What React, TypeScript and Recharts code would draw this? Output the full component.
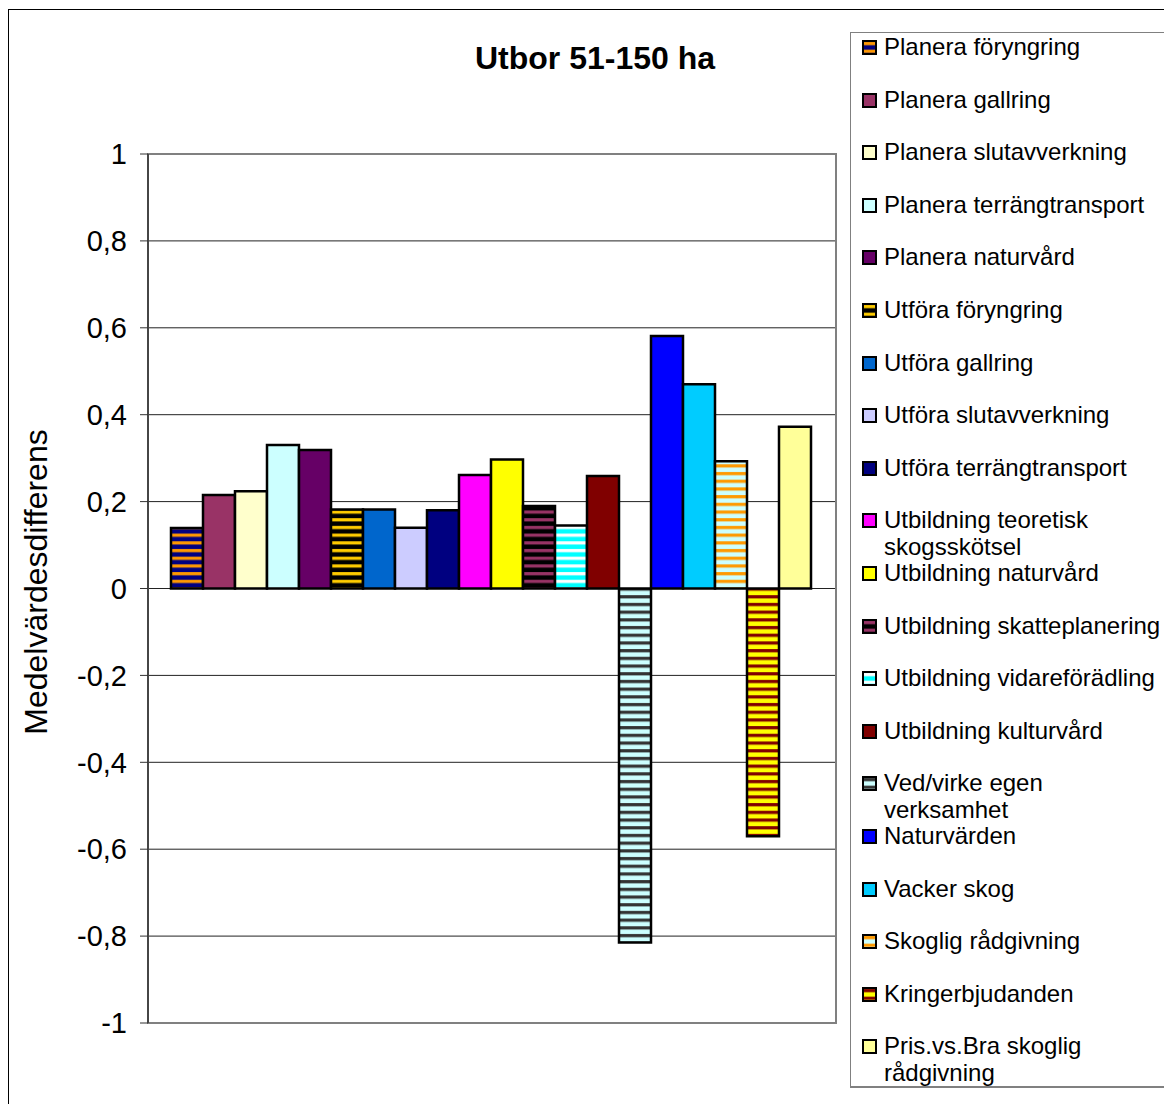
import React from 'react';
import { BarChart, Bar, XAxis, YAxis, CartesianGrid, ReferenceArea } from 'recharts';

// series names, in legend order
const seriesNames = [
  'Planera föryngring',
  'Planera gallring',
  'Planera slutavverkning',
  'Planera terrängtransport',
  'Planera naturvård',
  'Utföra föryngring',
  'Utföra gallring',
  'Utföra slutavverkning',
  'Utföra terrängtransport',
  'Utbildning teoretisk skogsskötsel',
  'Utbildning naturvård',
  'Utbildning skatteplanering',
  'Utbildning vidareförädling',
  'Utbildning kulturvård',
  'Ved/virke egen verksamhet',
  'Naturvärden',
  'Vacker skog',
  'Skoglig rådgivning',
  'Kringerbjudanden',
  'Pris.vs.Bra skoglig rådgivning',
];

// legend labels with the line breaks seen in the picture
const legendLabels = [
  ['Planera föryngring'],
  ['Planera gallring'],
  ['Planera slutavverkning'],
  ['Planera terrängtransport'],
  ['Planera naturvård'],
  ['Utföra föryngring'],
  ['Utföra gallring'],
  ['Utföra slutavverkning'],
  ['Utföra terrängtransport'],
  ['Utbildning teoretisk', 'skogsskötsel'],
  ['Utbildning naturvård'],
  ['Utbildning skatteplanering'],
  ['Utbildning vidareförädling'],
  ['Utbildning kulturvård'],
  ['Ved/virke egen', 'verksamhet'],
  ['Naturvärden'],
  ['Vacker skog'],
  ['Skoglig rådgivning'],
  ['Kringerbjudanden'],
  ['Pris.vs.Bra skoglig', 'rådgivning'],
];

const seriesValues = [
  0.139, 0.215, 0.224, 0.33, 0.319, 0.182, 0.182, 0.14, 0.18, 0.261,
  0.297, 0.19, 0.145, 0.259, -0.815, 0.581, 0.47, 0.293, -0.57, 0.372,
];

// solid colour or striped pattern [background, stripe]
const seriesFills: (string | [string, string])[] = [
  ['#000080', '#FF9900'],
  '#993366',
  '#FFFFCC',
  '#CCFFFF',
  '#660066',
  ['#000000', '#FFCC00'],
  '#0066CC',
  '#CCCCFF',
  '#000080',
  '#FF00FF',
  '#FFFF00',
  ['#000000', '#993366'],
  ['#00FFFF', '#FFFFFF'],
  '#800000',
  ['#CCFFFF', '#333333'],
  '#0000FF',
  '#00CCFF',
  ['#CCFFFF', '#FF9900'],
  ['#FFFF00', '#800000'],
  '#FFFF99',
];

const yTicks = [-1, -0.8, -0.6, -0.4, -0.2, 0, 0.2, 0.4, 0.6, 0.8, 1];

const chartRow: Record<string, number | string> = { name: 'Utbor 51-150 ha' };
seriesValues.forEach((v, i) => {
  chartRow['s' + i] = v;
});
const chartData = [chartRow];

const fillFor = (i: number) => {
  const f = seriesFills[i];
  return typeof f === 'string' ? f : `url(#pat-${i})`;
};

const font = '"Liberation Sans", Arial, sans-serif';

const fmtTick = (v: number) => String(Math.round(v * 10) / 10).replace('.', ',');

function Patterns() {
  return (
    <svg width={0} height={0} style={{ position: 'absolute' }}>
      <defs>
        {seriesFills.map((f, i) =>
          typeof f === 'string' ? null : (
            <pattern key={i} id={`pat-${i}`} patternUnits="userSpaceOnUse" width={8} height={7.7}>
              <rect x={0} y={0} width={8} height={7.7} fill={f[0]} />
              <rect x={0} y={2} width={8} height={3.2} fill={f[1]} />
            </pattern>
          )
        )}
      </defs>
    </svg>
  );
}

export default function App() {
  return (
    <div style={{ position: 'relative', width: 1164, height: 1096, overflow: 'hidden', fontFamily: font }}>
      <Patterns />
      <div
        style={{
          position: 'absolute',
          left: 0,
          top: 1,
          width: 1250,
          height: 1250,
          border: '1px solid #000',
          background: '#fff',
        }}
      />
      <div
        style={{
          position: 'absolute',
          left: 387,
          width: 400,
          top: 32,
          textAlign: 'center',
          fontSize: 32,
          fontWeight: 'bold',
        }}
      >
        Utbor 51-150 ha
      </div>
      <div
        style={{
          position: 'absolute',
          left: 28,
          top: 574,
          transform: 'translate(-50%, -50%) rotate(-90deg)',
          fontSize: 32,
          whiteSpace: 'nowrap',
        }}
      >
        Medelvärdesdifferens
      </div>
      <div style={{ position: 'absolute', left: 0, top: 0 }}>
        <BarChart
          width={840}
          height={1040}
          data={chartData}
          margin={{ top: 146, right: 12, bottom: 25, left: 0 }}
          barCategoryGap={23}
          barGap={0}
        >
          <CartesianGrid vertical={false} stroke="#222" />
          <ReferenceArea y1={-1} y2={1} fill="none" stroke="#808080" strokeWidth={2} />
          <XAxis dataKey="name" hide />
          <YAxis
            width={140}
            domain={[-1, 1]}
            ticks={yTicks}
            interval={0}
            tickFormatter={fmtTick}
            tick={{ fill: '#000', fontSize: 29, fontFamily: font }}
            tickSize={8}
            tickMargin={13}
            stroke="#333"
            axisLine={{ stroke: '#333', strokeWidth: 1.5 }}
            tickLine={{ stroke: '#333' }}
          />
          {seriesNames.map((name, i) => (
            <Bar
              key={name}
              dataKey={'s' + i}
              name={name}
              fill={fillFor(i)}
              stroke="#000"
              strokeWidth={2.5}
              isAnimationActive={false}
            />
          ))}
        </BarChart>
      </div>
      <div
        style={{
          position: 'absolute',
          left: 842,
          top: 24,
          width: 320,
          height: 1056,
          borderTop: '1px solid #808080',
          borderLeft: '1px solid #808080',
          borderRight: '2px solid #808080',
          borderBottom: '2px solid #808080',
          background: '#fff',
          boxSizing: 'border-box',
          paddingTop: 0,
        }}
      >
        {legendLabels.map((lines, i) => (
          <div key={i} style={{ position: 'relative', height: 52.6 }}>
            <svg
              width={15}
              height={15}
              style={{ position: 'absolute', left: 11, top: 7 }}
            >
              <rect x={1} y={1} width={13} height={13} fill={fillFor(i)} stroke="#000" strokeWidth={2} />
            </svg>
            <div
              style={{
                position: 'absolute',
                left: 33,
                top: 0,
                fontSize: 24,
                lineHeight: '27px',
                whiteSpace: 'nowrap',
                color: '#000',
              }}
            >
              {lines.map((l, j) => (
                <div key={j}>{l}</div>
              ))}
            </div>
          </div>
        ))}
      </div>
    </div>
  );
}
